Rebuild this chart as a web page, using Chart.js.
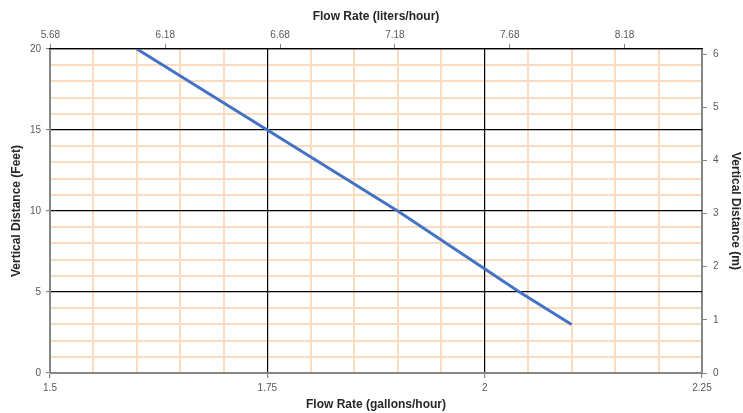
<!DOCTYPE html>
<html>
<head>
<meta charset="utf-8">
<script src="https://cdn.jsdelivr.net/npm/chart.js@4.4.1/dist/chart.umd.min.js"></script>
<style>
  html, body { margin: 0; padding: 0; background: #fff; }
  canvas { display: block; }
</style>
</head>
<body>
<canvas id="chart" width="743" height="413"></canvas>
<script>
// data
const flowGph = [1.6, 1.75, 1.9, 2.04, 2.1];
const distanceFt = [20, 15, 10, 5, 3];

// tick labels
const galTicks = [1.5, 1.75, 2, 2.25];
const literTicks = [5.68, 6.18, 6.68, 7.18, 7.68, 8.18];
const feetTicks = [0, 5, 10, 15, 20];
const meterTicks = [0, 1, 2, 3, 4, 5, 6];

const GAL_TO_L = 3.78541;
const FT_TO_M = 0.3048;

const ORANGE = '#fddbbf';
const BLACK = '#000000';
const GRAY = '#868686';
const tickFont = { family: 'Liberation Sans', size: 10 };
const titleFont = { family: 'Liberation Sans', size: 12, weight: 'bold' };

// minor grid axes (orange), drawn beneath the major lines
function minorAxis(pos, min, max, step, majors) {
    return {
        type: 'linear',
        position: pos,
        min: min,
        max: max,
        afterBuildTicks: (scale) => {
            const t = [];
            const n = Math.round((max - min) / step);
            for (let i = 1; i < n; i++) {
                const v = min + i * step;
                if (!majors.some(m => Math.abs(m - v) < 1e-6)) t.push({ value: v });
            }
            scale.ticks = t;
        },
        afterFit: (scale) => {
            if (pos === 'bottom') scale.height = 0; else scale.width = 0;
        },
        ticks: { display: false },
        border: { display: false },
        grid: { z: -2, drawTicks: false, color: ORANGE, lineWidth: 2 }
    };
}

const ctx = document.getElementById('chart').getContext('2d');
new Chart(ctx, {
    type: 'line',
    data: {
        datasets: [{
            data: flowGph.map((x, i) => ({ x: x, y: distanceFt[i] })),
            borderColor: '#4472C4',
            borderWidth: 3,
            pointRadius: 0,
            fill: false,
            tension: 0
        }]
    },
    options: {
        responsive: false,
        animation: false,
        devicePixelRatio: 1,
        layout: { padding: 0 },
        plugins: { legend: { display: false }, tooltip: { enabled: false } },
        scales: {
            x: {
                type: 'linear',
                position: 'bottom',
                min: 1.5,
                max: 2.25,
                afterBuildTicks: (scale) => {
                    scale.ticks = galTicks.map(v => ({ value: v }));
                },
                afterFit: (scale) => { scale.height = 40; },
                ticks: {
                    autoSkip: false,
                    maxRotation: 0,
                    padding: 4,
                    color: '#595959',
                    font: tickFont,
                    callback: (v) => String(v)
                },
                grid: {
                    tickLength: 5,
                    lineWidth: 1.2,
                    color: (c) => (c.tick.value === 1.5 || c.tick.value === 2.25) ? GRAY : BLACK,
                    tickColor: GRAY
                },
                border: { color: GRAY },
                title: {
                    display: true,
                    text: 'Flow Rate (gallons/hour)',
                    color: '#262626',
                    font: titleFont,
                    padding: { top: 0, bottom: 1 }
                }
            },
            xm: minorAxis('bottom', 1.5, 2.25, 0.05, galTicks),
            x2: {
                type: 'linear',
                position: 'top',
                min: 1.5 * GAL_TO_L,
                max: 2.25 * GAL_TO_L,
                afterBuildTicks: (scale) => {
                    scale.ticks = literTicks.map(v => ({ value: v }));
                },
                afterFit: (scale) => { scale.height = 49; },
                ticks: {
                    autoSkip: false,
                    maxRotation: 0,
                    padding: 3,
                    color: '#595959',
                    font: tickFont,
                    callback: (v) => v.toFixed(2)
                },
                grid: { drawOnChartArea: false, tickLength: 5, color: GRAY },
                border: { color: BLACK, width: 1.2 },
                title: {
                    display: true,
                    text: 'Flow Rate (liters/hour)',
                    color: '#262626',
                    font: titleFont,
                    padding: { top: 9, bottom: 0 }
                }
            },
            y: {
                type: 'linear',
                position: 'left',
                min: 0,
                max: 20,
                afterBuildTicks: (scale) => {
                    scale.ticks = feetTicks.map(v => ({ value: v }));
                },
                afterFit: (scale) => { scale.width = 50; },
                ticks: {
                    autoSkip: false,
                    padding: 5,
                    color: '#595959',
                    font: tickFont,
                    callback: (v) => String(v)
                },
                grid: {
                    tickLength: 4,
                    lineWidth: 1.2,
                    color: (c) => c.tick.value === 0 ? GRAY : BLACK,
                    tickColor: GRAY
                },
                border: { color: GRAY },
                title: {
                    display: true,
                    text: 'Vertical Distance (Feet)',
                    color: '#262626',
                    font: titleFont,
                    padding: { top: 9, bottom: 0 }
                }
            },
            ym: minorAxis('left', 0, 20, 1, feetTicks),
            y2: {
                type: 'linear',
                position: 'right',
                min: 0,
                max: 20 * FT_TO_M,
                afterBuildTicks: (scale) => {
                    scale.ticks = meterTicks.map(v => ({ value: v }));
                },
                afterFit: (scale) => { scale.width = 41; },
                ticks: {
                    autoSkip: false,
                    padding: 6,
                    color: '#595959',
                    font: tickFont,
                    callback: (v) => String(v)
                },
                grid: { drawOnChartArea: false, tickLength: 5, color: GRAY },
                border: { color: GRAY },
                title: {
                    display: true,
                    text: 'Vertical Distance (m)',
                    color: '#262626',
                    font: titleFont,
                    padding: { top: 0, bottom: 0 }
                }
            }
        }
    }
});
</script>
</body>
</html>
